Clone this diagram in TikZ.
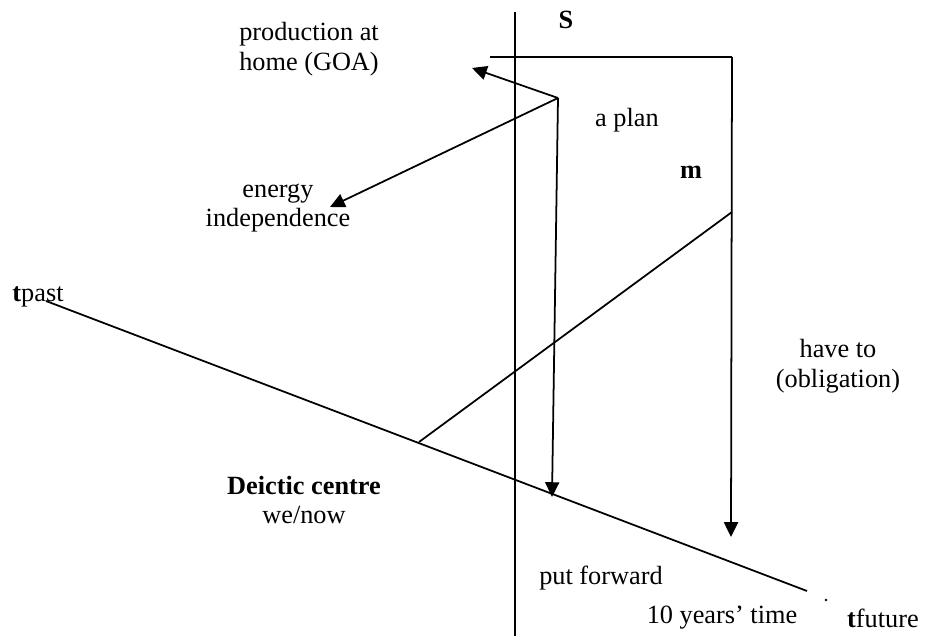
\documentclass[tikz,border=0pt]{standalone}
\usepackage{fontspec}
\setmainfont{Liberation Serif}
\usetikzlibrary{arrows.meta}
\tikzset{
  lbl/.style={align=center, inner sep=0pt, font=\fontsize{18.7}{21}\selectfont},
  arr/.style={-{Triangle[length=10.5pt,width=10pt]}},
}
\begin{document}
\begin{tikzpicture}[x=0.025cm, y=-0.025cm, line width=1.25pt]
    \useasboundingbox (0,0) rectangle (929,636);
    % points of the picture
    \coordinate (axtop) at (515,12);
    \coordinate (axbot) at (515,636);
    \coordinate (sleft) at (490,57);
    \coordinate (scorner) at (732,57);
    \coordinate (sdown) at (731,537);
    \coordinate (plan) at (558,98);
    \coordinate (goa) at (472,68);
    \coordinate (indep) at (330,207);
    \coordinate (fwd) at (552,497);
    \coordinate (tp) at (46,301);
    \coordinate (tf) at (807,591);
    \coordinate (deic) at (419,442);
    \coordinate (mtop) at (732,212);
    % lines
    \draw (axtop) -- (axbot);
    \draw (tp) -- (tf);
    \draw (sleft) -- (scorner);
    \draw[arr] (scorner) -- (sdown);
    \draw[arr] (plan) -- (goa);
    \draw[arr] (plan) -- (indep);
    \draw[arr] (plan) -- (fwd);
    \draw (deic) -- (mtop);
    \fill (826,600) circle (1pt) coordinate (dot);
    % labels
    \node[lbl] (s) at (566,20) {\textbf{S}};
    \node[lbl] (prod) at (309,49) {production at\\home (GOA)};
    \node[lbl] (energy) at (278,208) {energy\\independence};
    \node[lbl] (aplan) at (627,120) {a plan};
    \node[lbl] (m) at (691,172) {\textbf{m}};
    \node[lbl] (oblig) at (838,366) {have to\\(obligation)};
    \node[lbl] (tpast) at (38,297) {\textbf{t}past};
    \node[lbl] (centre) at (304,500) {\textbf{Deictic centre}\\we/now};
    \node[lbl] (put) at (601,578) {put forward};
    \node[lbl] (years) at (722,618) {10 years’ time};
    \node[lbl] (tfuture) at (883,618) {\textbf{t}future};
\end{tikzpicture}
\end{document}
